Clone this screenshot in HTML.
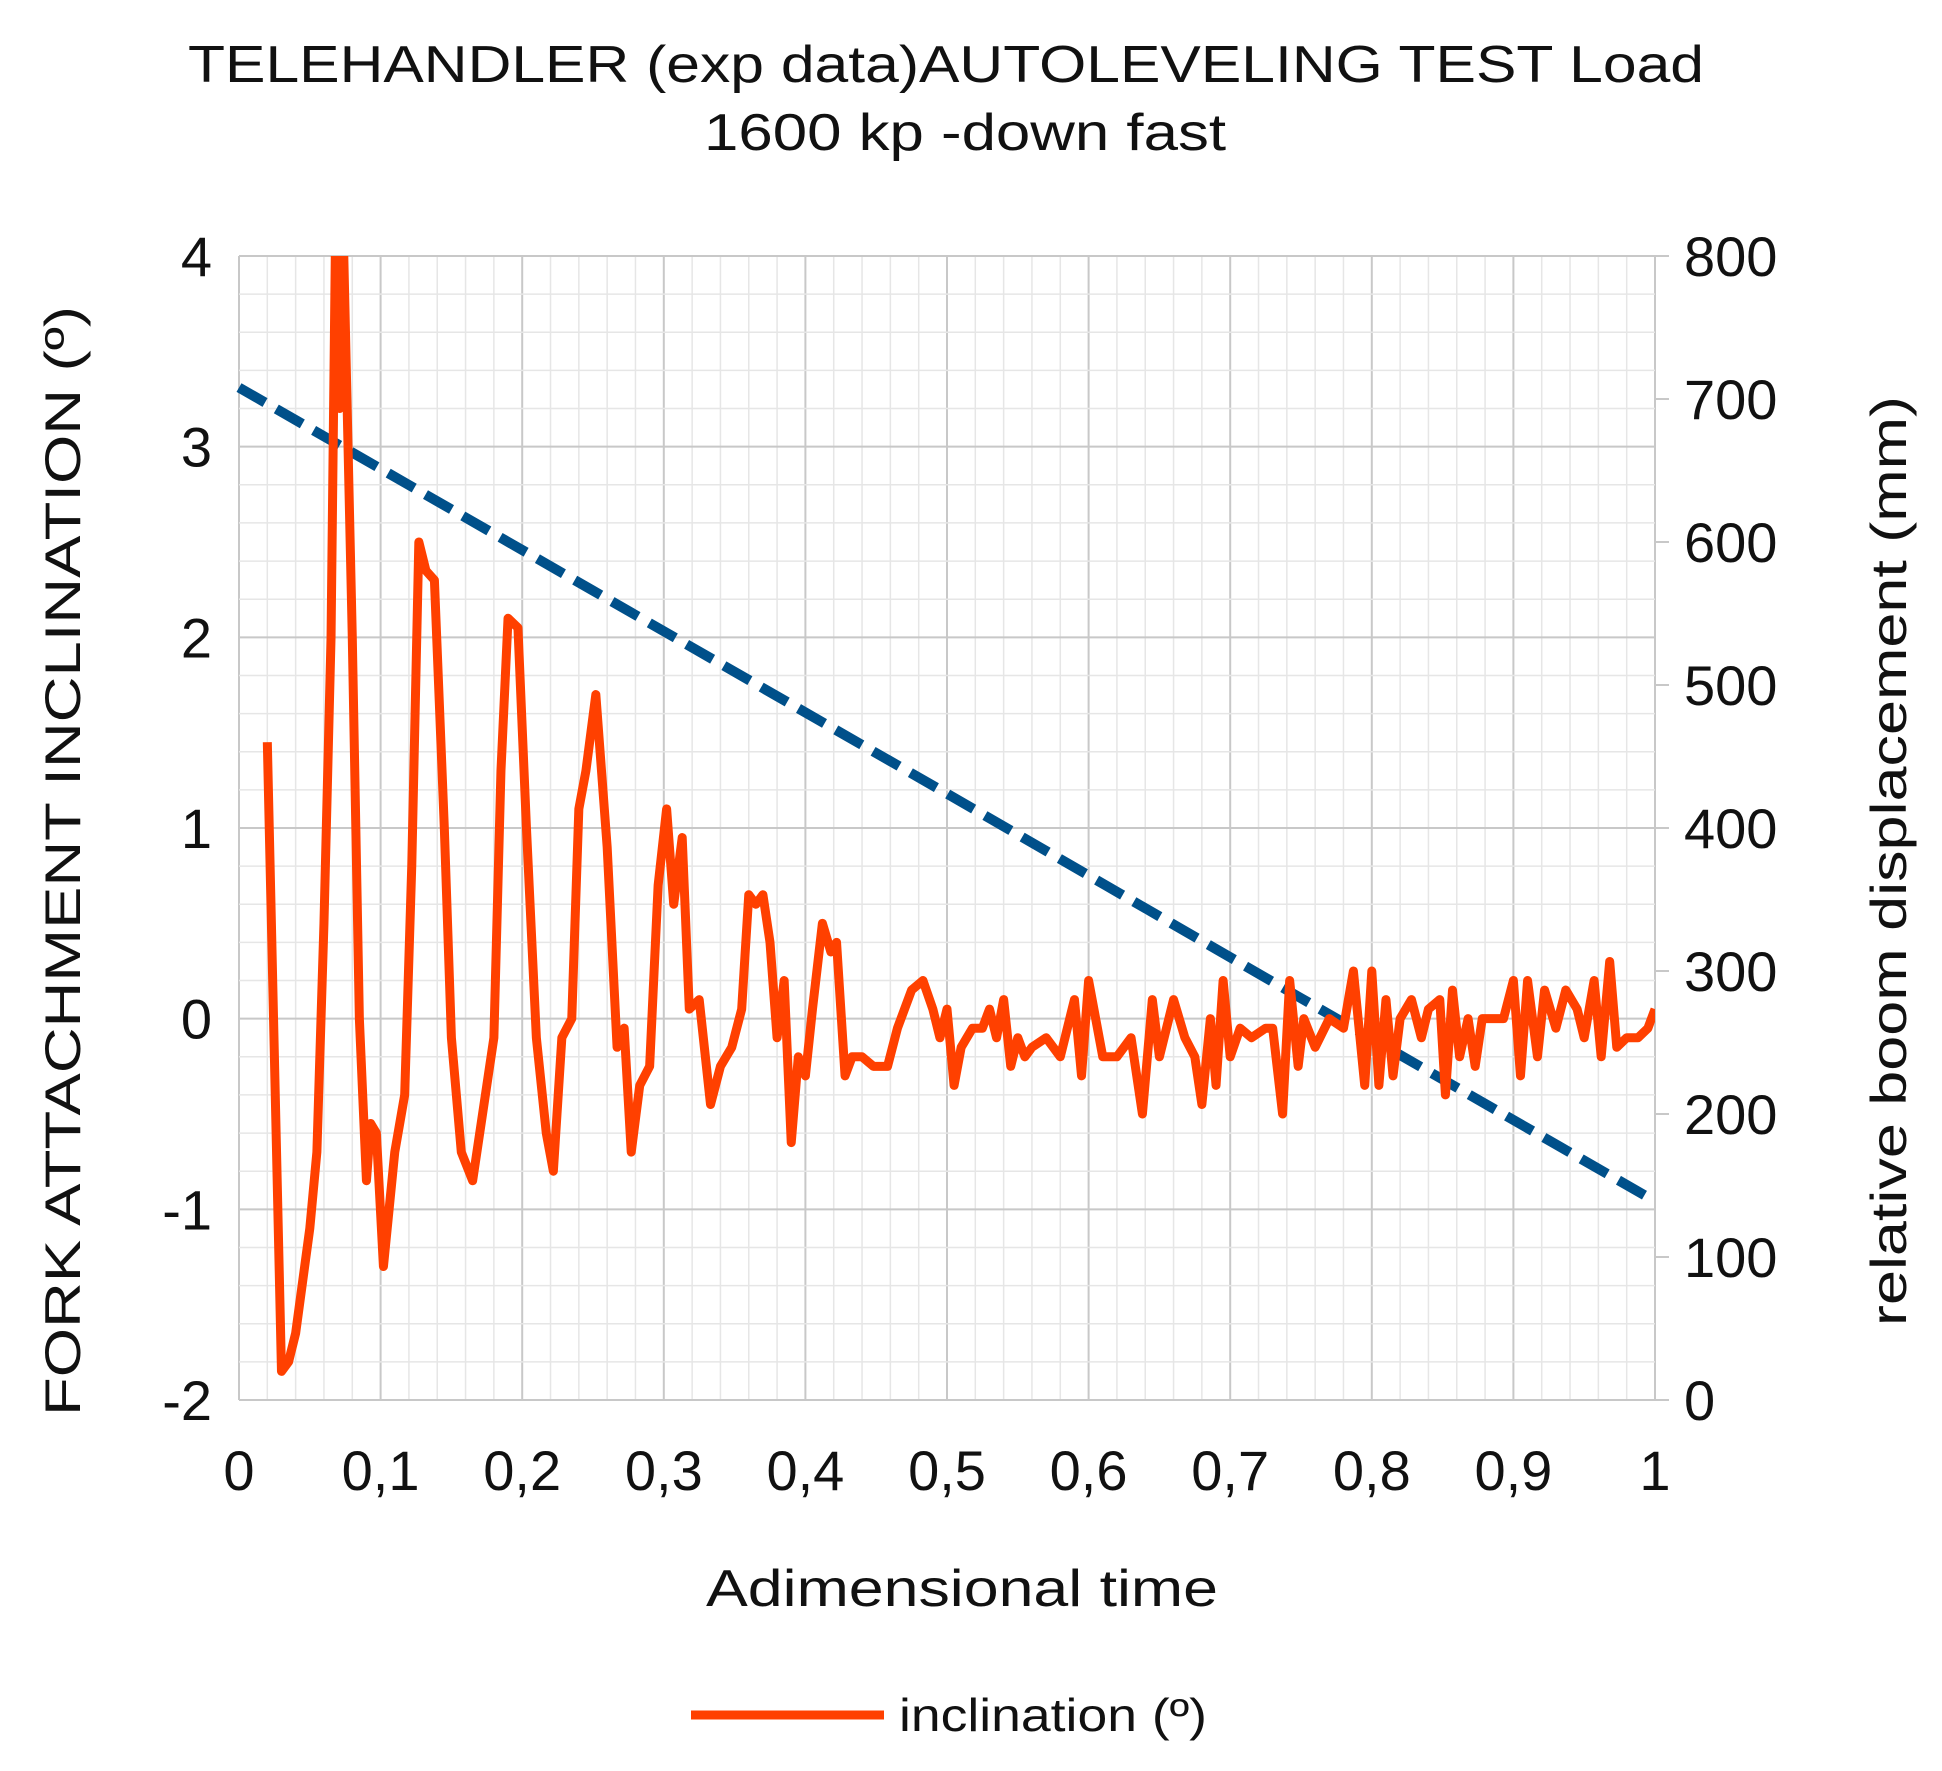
<!DOCTYPE html>
<html><head><meta charset="utf-8"><style>
html,body{margin:0;padding:0;background:#fff;}
svg{display:block;font-family:"Liberation Sans",sans-serif;}
</style></head><body>
<svg id="chart" width="1942" height="1771" viewBox="0 0 1942 1771" xmlns="http://www.w3.org/2000/svg">
<g>
<text x="946" y="82" font-size="52" text-anchor="middle" textLength="1516" lengthAdjust="spacingAndGlyphs" fill="#111">TELEHANDLER (exp data)AUTOLEVELING TEST Load</text>
<text x="965" y="150" font-size="52" text-anchor="middle" textLength="522" lengthAdjust="spacingAndGlyphs" fill="#111">1600 kp -down fast</text>
</g>
<g id="grid"></g>
<g id="axes"></g>
<g id="series"></g>
<text transform="translate(80,861) rotate(-90)" font-size="50" text-anchor="middle" textLength="1110" lengthAdjust="spacingAndGlyphs" fill="#111">FORK ATTACHMENT  INCLINATION (º)</text>
<text transform="translate(1906,861) rotate(-90)" font-size="50" text-anchor="middle" textLength="930" lengthAdjust="spacingAndGlyphs" fill="#111">relative boom displacement (mm)</text>
<text x="962" y="1606" font-size="52" text-anchor="middle" textLength="512" lengthAdjust="spacingAndGlyphs" fill="#111">Adimensional time</text>
<g>
<line x1="691" y1="1715" x2="884" y2="1715" stroke="#ff4000" stroke-width="9"/>
<text x="899" y="1731" font-size="46" textLength="308" lengthAdjust="spacingAndGlyphs" fill="#111">inclination (º)</text>
</g>
</svg>
<script>
const xTicks = [0,0.1,0.2,0.3,0.4,0.5,0.6,0.7,0.8,0.9,1];
const xTickLabels = ["0","0,1","0,2","0,3","0,4","0,5","0,6","0,7","0,8","0,9","1"];
const yTicks = [-2,-1,0,1,2,3,4];
const y2Ticks = [0,100,200,300,400,500,600,700,800];
const incX = [0.02,0.03,0.035,0.04,0.05,0.055,0.06,0.065,0.068,0.071,0.074,0.08,0.085,0.09,0.093,0.097,0.102,0.11,0.117,0.122,0.127,0.132,0.138,0.145,0.15,0.157,0.165,0.172,0.18,0.185,0.19,0.197,0.203,0.21,0.217,0.222,0.228,0.235,0.24,0.245,0.252,0.26,0.267,0.272,0.277,0.283,0.29,0.296,0.302,0.307,0.313,0.318,0.325,0.333,0.34,0.348,0.355,0.36,0.365,0.37,0.375,0.38,0.385,0.39,0.395,0.4,0.405,0.412,0.418,0.422,0.428,0.433,0.44,0.448,0.458,0.465,0.475,0.483,0.49,0.495,0.5,0.505,0.51,0.518,0.525,0.53,0.535,0.54,0.545,0.55,0.555,0.56,0.57,0.58,0.59,0.595,0.6,0.61,0.62,0.63,0.638,0.645,0.65,0.66,0.668,0.675,0.68,0.686,0.69,0.695,0.7,0.707,0.715,0.725,0.73,0.737,0.742,0.748,0.752,0.76,0.77,0.78,0.787,0.795,0.8,0.805,0.81,0.815,0.82,0.828,0.835,0.84,0.848,0.852,0.857,0.862,0.868,0.873,0.878,0.885,0.893,0.9,0.905,0.91,0.917,0.922,0.93,0.937,0.945,0.95,0.957,0.962,0.968,0.973,0.98,0.988,0.995,1.0];
const incY = [1.45,-1.85,-1.8,-1.65,-1.1,-0.7,0.5,2.0,4.0,3.2,4.0,2.0,0,-0.85,-0.55,-0.6,-1.3,-0.7,-0.4,0.8,2.5,2.35,2.3,1.0,-0.1,-0.7,-0.85,-0.5,-0.1,1.3,2.1,2.05,1.0,-0.1,-0.6,-0.8,-0.1,0.0,1.1,1.3,1.7,0.9,-0.15,-0.05,-0.7,-0.35,-0.25,0.7,1.1,0.6,0.95,0.05,0.1,-0.45,-0.25,-0.15,0.05,0.65,0.6,0.65,0.4,-0.1,0.2,-0.65,-0.2,-0.3,0.05,0.5,0.35,0.4,-0.3,-0.2,-0.2,-0.25,-0.25,-0.05,0.15,0.2,0.05,-0.1,0.05,-0.35,-0.15,-0.05,-0.05,0.05,-0.1,0.1,-0.25,-0.1,-0.2,-0.15,-0.1,-0.2,0.1,-0.3,0.2,-0.2,-0.2,-0.1,-0.5,0.1,-0.2,0.1,-0.1,-0.2,-0.45,0.0,-0.35,0.2,-0.2,-0.05,-0.1,-0.05,-0.05,-0.5,0.2,-0.25,0.0,-0.15,0.0,-0.05,0.25,-0.35,0.25,-0.35,0.1,-0.3,0.0,0.1,-0.1,0.05,0.1,-0.4,0.15,-0.2,0.0,-0.25,0.0,0.0,0.0,0.2,-0.3,0.2,-0.2,0.15,-0.05,0.15,0.05,-0.1,0.2,-0.2,0.3,-0.15,-0.1,-0.1,-0.05,0.05];
const dispX = [0,0.25,0.5,0.75,1];
const dispY = [708,566,424,281,139];

const L=239,R=1655,T=256,B=1400;
const NS='http://www.w3.org/2000/svg';
const sx=v=>L+v*(R-L);
const sy=v=>B-(v+2)/6*(B-T);
const sy2=v=>B-v/800*(B-T);
function mk(tag,attrs,parent){const e=document.createElementNS(NS,tag);for(const k in attrs)e.setAttribute(k,attrs[k]);parent.appendChild(e);return e;}
const grid=document.getElementById('grid'),axes=document.getElementById('axes'),ser=document.getElementById('series');
for(let i=0;i<=50;i++){const x=sx(i/50);const l=mk('line',{x1:x,y1:T,x2:x,y2:B,stroke:i%5?'#e6e6e6':'#c8c8c8','stroke-width':i%5?1.5:2},grid);

}
for(let i=0;i<=30;i++){const y=sy(-2+i/5);const l=mk('line',{x1:L,y1:y,x2:R,y2:y,stroke:i%5?'#e6e6e6':'#c8c8c8','stroke-width':i%5?1.5:2},grid);

}
xTicks.forEach((v,i)=>{const t=mk('text',{x:sx(v),y:1490,'font-size':56,'text-anchor':'middle',fill:'#111'},axes);t.textContent=xTickLabels[i];

});
yTicks.forEach(v=>{const t=mk('text',{x:212,y:sy(v)+20,'font-size':56,'text-anchor':'end',fill:'#111'},axes);t.textContent=String(v);

});
y2Ticks.forEach(v=>{const tk=mk('line',{x1:R,y1:sy2(v),x2:R+14,y2:sy2(v),stroke:'#c8c8c8','stroke-width':2},axes);


const t=mk('text',{x:1684,y:sy2(v)+20,'font-size':56,fill:'#111'},axes);t.textContent=String(v);

});
const dp=mk('polyline',{points:dispX.map((x,i)=>sx(x)+','+sy2(dispY[i])).join(' '),fill:'none',stroke:'#00508a','stroke-width':10,'stroke-dasharray':'30 13'},ser);


const cp=mk('clipPath',{id:'pc'},ser);mk('rect',{x:L,y:T,width:R-L,height:B-T},cp);
const ip=mk('polyline',{points:incX.map((x,i)=>sx(x)+','+sy(incY[i])).join(' '),fill:'none',stroke:'#ff4000','stroke-width':9,'stroke-linejoin':'round','clip-path':'url(#pc)'},ser);


</script>
</body></html>
